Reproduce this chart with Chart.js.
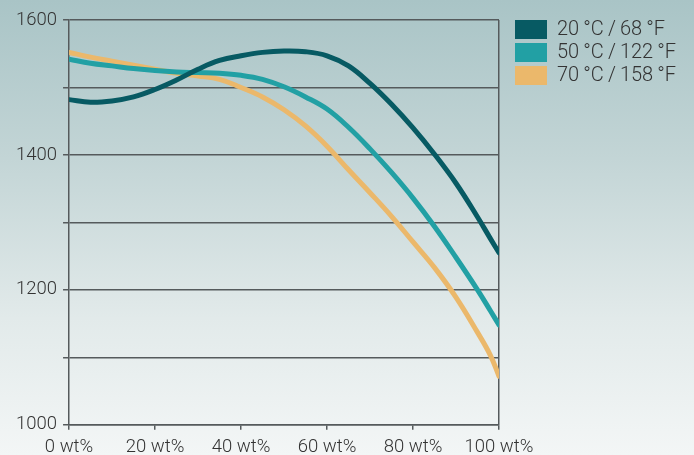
<!DOCTYPE html>
<html>
<head>
<meta charset="utf-8">
<script src="https://cdn.jsdelivr.net/npm/chart.js@4/dist/chart.umd.min.js"></script>
<style>
    html, body { margin: 0; padding: 0; }
    body {
        width: 694px;
        height: 455px;
        overflow: hidden;
        background: linear-gradient(180deg, #a9c4c6 0%, #c3d5d6 35%, #e2eaea 70%, #f3f6f6 100%);
    }
    #wrap { position: relative; width: 694px; height: 455px; }
</style>
</head>
<body>
<div id="wrap"><canvas id="myChart"></canvas></div>
<script>
const wt = [0, 5, 10, 15, 20, 25, 30, 35, 40, 45, 50, 55, 60, 65, 70, 75, 80, 85, 90, 95, 98, 100];

const series20 = [1482, 1478, 1480, 1486, 1497, 1511, 1527, 1540, 1547, 1552, 1554, 1553, 1547, 1532, 1506, 1475, 1440, 1401, 1358, 1308, 1276, 1255];
const series50 = [1542, 1536, 1532, 1528, 1525, 1523, 1522, 1521, 1518, 1512, 1501, 1486, 1468, 1441, 1409, 1374, 1336, 1294, 1248, 1200, 1169, 1148];
const series70 = [1552, 1545, 1539, 1533, 1527, 1521, 1517, 1512, 1500, 1486, 1467, 1443, 1413, 1378, 1344, 1309, 1271, 1233, 1189, 1137, 1103, 1072];

const labels = ["20\u2009°C\u2009/\u200968\u2009°F", "50\u2009°C\u2009/\u2009122\u2009°F", "70\u2009°C\u2009/\u2009158\u2009°F"];
const colors = ["#075a63", "#22a0a4", "#ebb86b"];

const xTicks = [0, 20, 40, 60, 80, 100];
const yLabelTicks = [1000, 1200, 1400, 1600];

function points(values) {
    return wt.map(function (x, i) { return { x: x, y: values[i] }; });
}

// legend drawn by hand so it sits where the original has it
const boxLegend = {
    id: 'boxLegend',
    afterDraw: function (chart) {
        const c = chart.ctx;
        c.save();
        c.font = '300 20px Roboto';
        c.textBaseline = 'middle';
        chart.data.datasets.forEach(function (ds, i) {
            const y = 20 + i * 23;
            c.fillStyle = ds.borderColor;
            c.fillRect(515, y, 32, 19);
            c.fillStyle = '#333';
            c.fillText(ds.label, 557, y + 10);
        });
        c.restore();
    }
};

const ctx = document.getElementById('myChart');
const axisColor = '#555a5c';
const font = { family: 'Roboto', size: 18.5, weight: '300' };

new Chart(ctx, {
    type: 'line',
    data: {
        datasets: [series20, series50, series70].map(function (s, i) {
            return {
                label: labels[i],
                data: points(s),
                borderColor: colors[i],
                backgroundColor: colors[i],
                borderWidth: 5,
                pointRadius: 0,
                tension: 0.4,
                borderCapStyle: 'round'
            };
        })
    },
    plugins: [boxLegend],
    options: {
        responsive: true,
        maintainAspectRatio: false,
        animation: false,
        layout: { padding: { top: 20, left: 10, right: 195, bottom: -9 } },
        plugins: {
            tooltip: { enabled: false },
            legend: { display: false }
        },
        scales: {
            x: {
                type: 'linear',
                min: 0,
                max: 100,
                afterBuildTicks: function (axis) {
                    axis.ticks = xTicks.map(function (v) { return { value: v }; });
                },
                ticks: {
                    color: '#333',
                    font: font,
                    padding: 6,
                    maxRotation: 0,
                    callback: function (v) { return v + ' wt%'; }
                },
                grid: {
                    color: function (c) { return c.tick && c.tick.value === 100 ? axisColor : 'transparent'; },
                    tickColor: axisColor,
                    tickLength: 5,
                    lineWidth: 1.5
                },
                border: { color: axisColor, width: 1.5 }
            },
            y: {
                min: 1000,
                max: 1600,
                ticks: {
                    stepSize: 100,
                    color: '#333',
                    font: font,
                    padding: 6,
                    callback: function (v) { return yLabelTicks.includes(v) ? v : ''; }
                },
                grid: {
                    color: axisColor,
                    tickLength: 6,
                    lineWidth: 1.5
                },
                border: { color: axisColor, width: 1.5 }
            }
        }
    }
});
</script>
</body>
</html>
